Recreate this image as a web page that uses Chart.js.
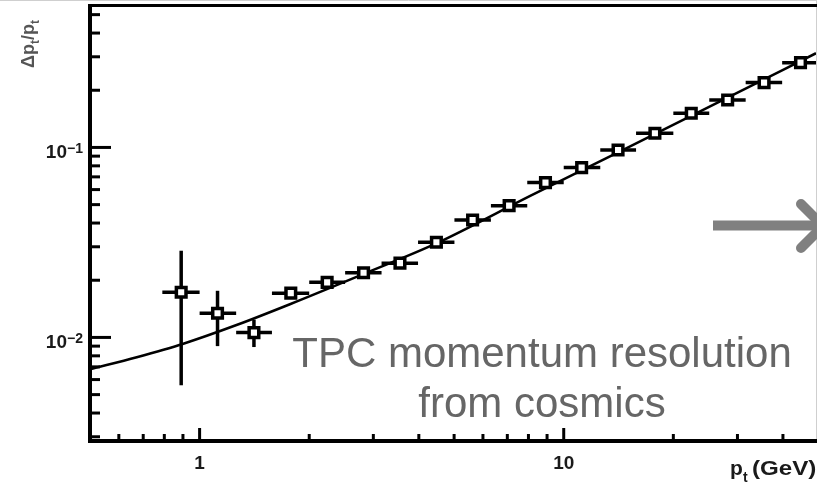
<!DOCTYPE html>
<html>
<head>
<meta charset="utf-8">
<script src="https://cdn.jsdelivr.net/npm/chart.js@4/dist/chart.umd.min.js"></script>
<style>
  body { margin: 0; background: #fff; }
  canvas { display: block; }
</style>
</head>
<body>
<canvas id="grafico" width="817" height="489"></canvas>
<script>
// bins de pt (GeV)
const ptCentro = [0.89, 1.12, 1.41, 1.78, 2.24, 2.82, 3.55, 4.47, 5.62, 7.08, 8.91, 11.2, 14.1, 17.8, 22.4, 28.2, 35.5, 44.7];
const ptMin = [0.79, 1.0, 1.26, 1.58, 2.0, 2.51, 3.16, 3.98, 5.01, 6.31, 7.94, 10.0, 12.6, 15.8, 20.0, 25.1, 31.6, 39.8];
const ptMax = [1.0, 1.26, 1.58, 2.0, 2.51, 3.16, 3.98, 5.01, 6.31, 7.94, 10.0, 12.6, 15.8, 20.0, 25.1, 31.6, 39.8, 50.1];

// resolucao dp/p medida com cosmicos
const resolucao = [0.0173, 0.0134, 0.0106, 0.0171, 0.0195, 0.0219, 0.0246, 0.0317, 0.0415, 0.0494, 0.0653, 0.0783, 0.0970, 0.1187, 0.1514, 0.1778, 0.2194, 0.2794];
const erroBaixo = [0.0056, 0.0090, 0.0089, null, null, null, null, null, null, null, null, null, null, null, null, null, null, null];
const erroAlto = [0.0286, 0.0176, 0.0124, null, null, null, null, null, null, null, null, null, null, null, null, null, null, null];

// curva ajustada
const ajustePt = [0.5, 0.672, 0.898, 1.263, 1.777, 2.818, 4.497, 8.09, 14.84, 26.88, 49.3];
const ajusteRes = [0.0068, 0.00787, 0.00924, 0.01162, 0.0150, 0.02157, 0.03143, 0.05555, 0.0988, 0.1746, 0.3132];

// eixos
const xMaiores = [1, 10];
const xRotulos = ["1", "10"];
const xMenores = [0.6, 0.7, 0.8, 0.9, 2, 3, 4, 5, 6, 7, 8, 9, 20, 30, 40];
const yMaiores = [0.01, 0.1];
const yExpoentes = ["\u22122", "\u22121"];
const yMenores = [0.003, 0.004, 0.005, 0.006, 0.007, 0.008, 0.009, 0.02, 0.03, 0.04, 0.05, 0.06, 0.07, 0.08, 0.09, 0.2, 0.3, 0.4, 0.5];

const fonte = '"Liberation Sans", Arial, sans-serif';

const barrasErro = {
    id: "barrasErro",
    beforeDatasetDraw(chart, args) {
        if (args.index !== 0) return;
        const ctx = chart.ctx;
        const x = chart.scales.x;
        const y = chart.scales.y;
        ctx.save();
        ctx.strokeStyle = "#000";
        ctx.lineWidth = 3.5;
        ptCentro.forEach((pt, i) => {
            const py = y.getPixelForValue(resolucao[i]);
            ctx.beginPath();
            ctx.moveTo(x.getPixelForValue(ptMin[i]), py);
            ctx.lineTo(x.getPixelForValue(ptMax[i]), py);
            ctx.stroke();
            if (erroBaixo[i] !== null) {
                const px = x.getPixelForValue(pt);
                ctx.beginPath();
                ctx.moveTo(px, y.getPixelForValue(erroBaixo[i]));
                ctx.lineTo(px, y.getPixelForValue(erroAlto[i]));
                ctx.stroke();
            }
        });
        ctx.restore();
    }
};

function linha(ctx, x1, y1, x2, y2) {
    ctx.beginPath();
    ctx.moveTo(x1, y1);
    ctx.lineTo(x2, y2);
    ctx.stroke();
}

const moldura = {
    id: "moldura",
    afterDraw(chart) {
        const ctx = chart.ctx;
        const { left, right, top, bottom } = chart.chartArea;
        const x = chart.scales.x;
        const y = chart.scales.y;
        ctx.save();

        // bordas claras da imagem
        ctx.strokeStyle = "#cfcfcf";
        ctx.lineWidth = 1;
        linha(ctx, 0, 0.5, 817, 0.5);
        linha(ctx, right + 0.5, 0, right + 0.5, bottom);

        // eixos
        ctx.strokeStyle = "#000";
        ctx.lineWidth = 3;
        linha(ctx, left - 2, top + 0.5, 817, top + 0.5);
        ctx.lineWidth = 4;
        linha(ctx, left, top - 1, left, bottom + 2);
        linha(ctx, left - 2, bottom, 817, bottom);

        // marcas para dentro
        ctx.lineWidth = 3;
        yMenores.forEach(v => { const py = y.getPixelForValue(v); linha(ctx, left, py, left + 10, py); });
        yMaiores.forEach(v => { const py = y.getPixelForValue(v); linha(ctx, left, py, left + 21, py); });
        xMenores.forEach(v => { const px = x.getPixelForValue(v); linha(ctx, px, bottom, px, bottom - 7); });
        xMaiores.forEach(v => { const px = x.getPixelForValue(v); linha(ctx, px, bottom, px, bottom - 13); });

        // rotulos
        ctx.fillStyle = "#1a1a1a";
        ctx.textBaseline = "alphabetic";
        yMaiores.forEach((v, i) => {
            const py = y.getPixelForValue(v);
            ctx.font = "bold 19px " + fonte;
            ctx.textAlign = "right";
            ctx.fillText("10", 67, py + 11);
            ctx.font = "bold 14px " + fonte;
            ctx.textAlign = "left";
            ctx.fillText(yExpoentes[i], 67, py + 6);
        });
        ctx.font = "bold 19px " + fonte;
        ctx.textAlign = "center";
        xMaiores.forEach((v, i) => {
            ctx.fillText(xRotulos[i], x.getPixelForValue(v), 469);
        });

        // titulo do eixo x: p_t (GeV)
        ctx.textAlign = "left";
        ctx.font = "bold 21px " + fonte;
        ctx.fillText("p", 730, 475);
        ctx.font = "bold 14px " + fonte;
        ctx.fillText("t", 743, 482);
        ctx.save();
        ctx.translate(752, 475);
        ctx.scale(1.15, 1);
        ctx.font = "bold 21px " + fonte;
        ctx.fillText("(GeV)", 0, 0);
        ctx.restore();

        // titulo do eixo y: dp_t/p_t
        ctx.save();
        ctx.translate(34, 68);
        ctx.rotate(-Math.PI / 2);
        ctx.fillStyle = "#555";
        let cx = 0;
        const partes = [["\u0394p", 18, 0], ["t", 12, 5], ["/p", 18, 0], ["t", 12, 5]];
        partes.forEach(([txt, tam, dy]) => {
            ctx.font = "bold " + tam + "px " + fonte;
            ctx.fillText(txt, cx, dy);
            cx += ctx.measureText(txt).width;
        });
        ctx.restore();

        // anotacao
        ctx.fillStyle = "#666";
        ctx.font = "42px " + fonte;
        ctx.textAlign = "center";
        ctx.fillText("TPC momentum resolution", 542, 367);
        ctx.fillText("from cosmics", 542, 417);

        // seta
        ctx.strokeStyle = "#808080";
        ctx.lineWidth = 10;
        ctx.lineCap = "butt";
        linha(ctx, 713, 225.5, 817, 225.5);
        ctx.lineCap = "round";
        ctx.lineJoin = "round";
        ctx.beginPath();
        ctx.moveTo(801, 204);
        ctx.lineTo(823, 226);
        ctx.lineTo(801, 248);
        ctx.stroke();

        ctx.restore();
    }
};

const ctx = document.getElementById("grafico").getContext("2d");

new Chart(ctx, {
    type: "line",
    data: {
        datasets: [
            {
                label: "medidas",
                data: ptCentro.map((pt, i) => ({ x: pt, y: resolucao[i] })),
                showLine: false,
                pointStyle: "rect",
                pointRadius: 6.8,
                pointBorderWidth: 3.5,
                pointBorderColor: "#000",
                pointBackgroundColor: "#fff"
            },
            {
                label: "ajuste",
                data: ajustePt.map((pt, i) => ({ x: pt, y: ajusteRes[i] })),
                borderColor: "#000",
                borderWidth: 2.5,
                pointRadius: 0,
                cubicInterpolationMode: "monotone",
                fill: false
            }
        ]
    },
    options: {
        responsive: false,
        animation: false,
        events: [],
        layout: { autoPadding: false, padding: { left: 90, right: 1, top: 5, bottom: 48 } },
        plugins: {
            legend: { display: false },
            tooltip: { enabled: false }
        },
        scales: {
            x: { type: "logarithmic", min: 0.5, max: 49.3, display: false },
            y: { type: "logarithmic", min: 0.00285, max: 0.562, display: false }
        }
    },
    plugins: [barrasErro, moldura]
});
</script>
</body>
</html>
